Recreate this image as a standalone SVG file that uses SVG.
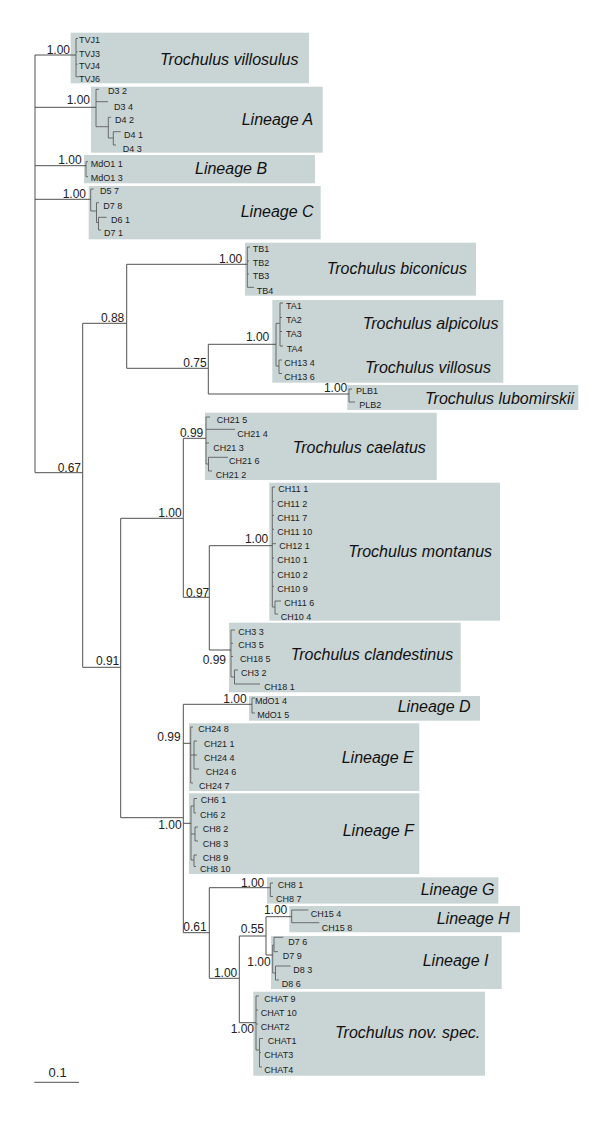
<svg xmlns="http://www.w3.org/2000/svg" width="600" height="1129" viewBox="0 0 600 1129">
<style>
.box{fill:#c9d4d4}
.sp{font-family:"Liberation Sans",Arial,sans-serif;font-style:italic;font-size:16px;fill:#111}
.lf{font-family:"Liberation Sans",Arial,sans-serif;font-size:9px;fill:#222}
.bs{font-family:"Liberation Sans",Arial,sans-serif;font-size:12px;fill:#222;text-anchor:end}
.ln{fill:none;stroke:#505050;stroke-width:1}
.lb{fill:none;stroke:#505050;stroke-width:0.8}
</style>
<rect width="600" height="1129" fill="#fff"/>

<g id="villosulus"><rect class="box" x="70.7" y="32.7" width="238.3" height="50.6"/>
<text class="sp" x="160" y="65">Trochulus villosulus</text>
<text class="lf" x="79" y="43.2">TVJ1</text><text class="lf" x="79" y="56.5">TVJ3</text><text class="lf" x="79" y="68.9">TVJ4</text><text class="lf" x="79" y="81.5">TVJ6</text></g>

<g id="lineageA"><rect class="box" x="91" y="86.7" width="231.7" height="66"/>
<text class="sp" x="241.7" y="125">Lineage A</text>
<text class="lf" x="108" y="94.3">D3 2</text><text class="lf" x="114" y="109.9">D3 4</text><text class="lf" x="115" y="123.2">D4 2</text><text class="lf" x="124" y="138.2">D4 1</text><text class="lf" x="122.7" y="152">D4 3</text></g>

<g id="lineageB"><rect class="box" x="84" y="155" width="231" height="28.3"/>
<text class="sp" x="195" y="174">Lineage B</text>
<text class="lf" x="90.7" y="167.2">MdO1 1</text><text class="lf" x="90.7" y="180.5">MdO1 3</text></g>

<g id="lineageC"><rect class="box" x="88.7" y="186" width="232" height="53.3"/>
<text class="sp" x="240.7" y="216.7">Lineage C</text>
<text class="lf" x="100" y="193.9">D5 7</text><text class="lf" x="103.3" y="208.9">D7 8</text><text class="lf" x="111" y="223.2">D6 1</text><text class="lf" x="104" y="235.9">D7 1</text></g>

<g id="biconicus"><rect class="box" x="245" y="242.7" width="231" height="53"/>
<text class="sp" x="326.7" y="274">Trochulus biconicus</text>
<text class="lf" x="252.7" y="252.2">TB1</text><text class="lf" x="252.7" y="265.9">TB2</text><text class="lf" x="252.7" y="278.9">TB3</text><text class="lf" x="256.7" y="293.9">TB4</text></g>

<g id="alpicolus"><rect class="box" x="272.3" y="300" width="231" height="82.7"/>
<text class="sp" x="362.7" y="329.3">Trochulus alpicolus</text>
<text class="sp" x="365" y="372.7">Trochulus villosus</text>
<text class="lf" x="286" y="309.2">TA1</text><text class="lf" x="286" y="323.2">TA2</text><text class="lf" x="286" y="337.2">TA3</text><text class="lf" x="286.7" y="351.5">TA4</text><text class="lf" x="284.3" y="365.9">CH13 4</text><text class="lf" x="284.3" y="379.9">CH13 6</text></g>

<g id="lubomirskii"><rect class="box" x="347.3" y="385" width="231" height="25"/>
<text class="sp" x="425" y="404">Trochulus lubomirskii</text>
<text class="lf" x="356" y="394.2">PLB1</text><text class="lf" x="359.3" y="407.5">PLB2</text></g>

<g id="caelatus"><rect class="box" x="205" y="412.7" width="231.7" height="67.3"/>
<text class="sp" x="292.7" y="452.7">Trochulus caelatus</text>
<text class="lf" x="216.7" y="422.5">CH21 5</text><text class="lf" x="237.3" y="436.5">CH21 4</text><text class="lf" x="213.3" y="450.9">CH21 3</text><text class="lf" x="229" y="464.2">CH21 6</text><text class="lf" x="215.7" y="478.2">CH21 2</text></g>

<g id="montanus"><rect class="box" x="269.3" y="482.7" width="230.7" height="138"/>
<text class="sp" x="348.3" y="557.3">Trochulus montanus</text>
<text class="lf" x="278.3" y="492.2">CH11 1</text><text class="lf" x="277.3" y="506.5">CH11 2</text><text class="lf" x="277.3" y="520.5">CH11 7</text><text class="lf" x="277.3" y="534.5">CH11 10</text><text class="lf" x="279.3" y="548.9">CH12 1</text><text class="lf" x="277.3" y="563.2">CH10 1</text><text class="lf" x="277.3" y="577.5">CH10 2</text><text class="lf" x="277.3" y="591.5">CH10 9</text><text class="lf" x="284.3" y="605.9">CH11 6</text><text class="lf" x="280.7" y="619.9">CH10 4</text></g>

<g id="clandestinus"><rect class="box" x="229" y="622.7" width="231.7" height="69.6"/>
<text class="sp" x="290.7" y="660">Trochulus clandestinus</text>
<text class="lf" x="238.3" y="634.9">CH3 3</text><text class="lf" x="238.3" y="648.2">CH3 5</text><text class="lf" x="240" y="661.5">CH18 5</text><text class="lf" x="241" y="675.5">CH3 2</text><text class="lf" x="264.3" y="689.9">CH18 1</text></g>

<g id="lineageD"><rect class="box" x="249" y="696" width="231" height="24.7"/>
<text class="sp" x="397.7" y="711.7">Lineage D</text>
<text class="lf" x="255" y="703.9">MdO1 4</text><text class="lf" x="257.3" y="718.2">MdO1 5</text></g>

<g id="lineageE"><rect class="box" x="189" y="723.3" width="230.3" height="67.7"/>
<text class="sp" x="341.7" y="762.7">Lineage E</text>
<text class="lf" x="198.3" y="732.2">CH24 8</text><text class="lf" x="204" y="746.5">CH21 1</text><text class="lf" x="204" y="760.5">CH24 4</text><text class="lf" x="205.7" y="774.9">CH24 6</text><text class="lf" x="199" y="788.9">CH24 7</text></g>

<g id="lineageF"><rect class="box" x="189" y="793.3" width="230.3" height="80.7"/>
<text class="sp" x="342.7" y="836">Lineage F</text>
<text class="lf" x="200.7" y="803.2">CH6 1</text><text class="lf" x="200" y="818.2">CH6 2</text><text class="lf" x="202.7" y="832.2">CH8 2</text><text class="lf" x="202.7" y="846.5">CH8 3</text><text class="lf" x="202.7" y="860.5">CH8 9</text><text class="lf" x="200" y="871.9">CH8 10</text></g>

<g id="lineageG"><rect class="box" x="267" y="877.3" width="231.3" height="26.3"/>
<text class="sp" x="420.7" y="895">Lineage G</text>
<text class="lf" x="277.7" y="888.2">CH8 1</text><text class="lf" x="276" y="902.2">CH8 7</text></g>

<g id="lineageH"><rect class="box" x="289.3" y="906" width="230.7" height="26.3"/>
<text class="sp" x="436.7" y="924.3">Lineage H</text>
<text class="lf" x="310.7" y="916.5">CH15 4</text><text class="lf" x="321.7" y="930.5">CH15 8</text></g>

<g id="lineageI"><rect class="box" x="271" y="936" width="230.7" height="53"/>
<text class="sp" x="422.7" y="965.7">Lineage I</text>
<text class="lf" x="288.3" y="944.9">D7 6</text><text class="lf" x="282.7" y="958.9">D7 9</text><text class="lf" x="293.3" y="973.2">D8 3</text><text class="lf" x="281.7" y="987.2">D8 6</text></g>

<g id="novspec"><rect class="box" x="253.3" y="991.7" width="231.7" height="84"/>
<text class="sp" x="335" y="1037.7">Trochulus nov. spec.</text>
<text class="lf" x="264.3" y="1001.5">CHAT 9</text><text class="lf" x="260.7" y="1015.9">CHAT 10</text><text class="lf" x="260.7" y="1029.9">CHAT2</text><text class="lf" x="267.7" y="1044.2">CHAT1</text><text class="lf" x="264.3" y="1058.2">CHAT3</text><text class="lf" x="264.3" y="1072.5">CHAT4</text></g>

<g id="connectors">
<path class="ln" d="M35,55V472.7 M35,55H76 M35,107.3H96 M35,165.7H86 M35,199.3H90.7 M35,472.7H82.7
M82.7,323.3V667.3 M82.7,323.3H126.7 M126.7,264.3V368.3 M126.7,264.3H247.3 M126.7,368.3H208.3
M208.3,344.3V394 M208.3,344.3H276 M208.3,394H349
M82.7,667.3H120.7 M120.7,518.3V817.7 M120.7,518.3H183.3 M183.3,438.3V597.3 M183.3,438.3H206 M183.3,597.3H209.3
M209.3,545.7V650 M209.3,545.7H272.3 M209.3,650H231
M120.7,817.7H183.3 M183.3,704.3V932.7 M183.3,704.3H252 M183.3,743.3H190.7 M183.3,823.3H191 M183.3,932.7H209.3
M209.3,887.7V978.3 M209.3,887.7H270.3 M209.3,978.3H239.3 M239.3,936V1022.7 M239.3,936H266 M239.3,1022.7H256
M266,916.7V955 M266,916.7H291.7 M266,955H272.7
M34.3,1082.3H79"/>
<path class="lb" d="M78,38.5H76V76.8H79 M76,51.8H77.5 M76,64.2H77.5
M99,89.3H96V126.7 M96,101.7H108 M96,126.7H108.3 M111,117.3H108.3V138H113.3 M120.7,131.7H113.3V145H116
M88,161.7H86V176.7H88
M93.7,189H90.7V211H96.5 M99,202.7H96.5V222.5H98.5 M106.7,217.3H98.5V230H101
M250,247H247.3V287.3H254 M247.3,261H249 M247.3,274H249
M276,323.3V366 M276,323.3H280 M283,303H280V346H283 M280,317.5H282 M280,331.5H282 M276,366H279 M282,360H279V373.5H282
M352,389H349V402H355
M210,417H206V464H208.5 M206,429.3H235 M206,443H209 M228,457.3H208.5V471H212
M275,487H272.3V607H275 M272.3,501.3H274 M272.3,515.3H274 M272.3,529.3H274 M272.3,543.7H276 M272.3,558H274 M272.3,572.3H274 M272.3,586.3H274 M281,601H275V614H278
M235,630H231V677H234.5 M231,643.3H233 M231,656.5H233 M238,670H234.5V684H260
M255,698H252V713H255
M193,727H190.7V783H193 M190.7,755H194 M197,741H194V769H199 M194,755H197
M191,806V860 M191,806H194 M197,798.5H194V813H196 M191,834H195 M198,827H195V841H198 M191,860H194 M197,855H194V866.5H196
M273,883H270.3V896.5H273
M308.3,910H291.7V922.7H319.3
M272.7,945V973 M272.7,945H274 M283.3,937.3H274V951.7H278 M272.7,973H275.5 M290.7,966H275.5V980H279
M259,996H256V1050H259.5 M256,1010H258 M256,1024H258 M263,1038.5H259.5V1067H262 M259.5,1052.5H261"/>
</g>

<g id="support">
<text class="bs" x="70" y="54">1.00</text>
<text class="bs" x="90" y="104">1.00</text>
<text class="bs" x="81.7" y="164">1.00</text>
<text class="bs" x="86" y="198.3">1.00</text>
<text class="bs" x="81" y="471.7">0.67</text>
<text class="bs" x="124.3" y="322.3">0.88</text>
<text class="bs" x="242.3" y="263.3">1.00</text>
<text class="bs" x="206.7" y="366.7">0.75</text>
<text class="bs" x="269.3" y="341">1.00</text>
<text class="bs" x="347.3" y="392.3">1.00</text>
<text class="bs" x="119.3" y="665.3">0.91</text>
<text class="bs" x="181.7" y="516.7">1.00</text>
<text class="bs" x="203.3" y="437.3">0.99</text>
<text class="bs" x="209.3" y="596.7">0.97</text>
<text class="bs" x="268.3" y="543.3">1.00</text>
<text class="bs" x="226" y="664.3">0.99</text>
<text class="bs" x="246.7" y="702.7">1.00</text>
<text class="bs" x="180.7" y="741">0.99</text>
<text class="bs" x="181.7" y="829.3">1.00</text>
<text class="bs" x="206.7" y="930.7">0.61</text>
<text class="bs" x="264.3" y="886.7">1.00</text>
<text class="bs" x="264" y="933.3">0.55</text>
<text class="bs" x="287.3" y="914.3">1.00</text>
<text class="bs" x="270.7" y="966">1.00</text>
<text class="bs" x="237.3" y="977.3">1.00</text>
<text class="bs" x="254" y="1032.7">1.00</text>
<text class="bs" x="66.7" y="1076.7" style="font-size:13px">0.1</text>
</g>
</svg>
